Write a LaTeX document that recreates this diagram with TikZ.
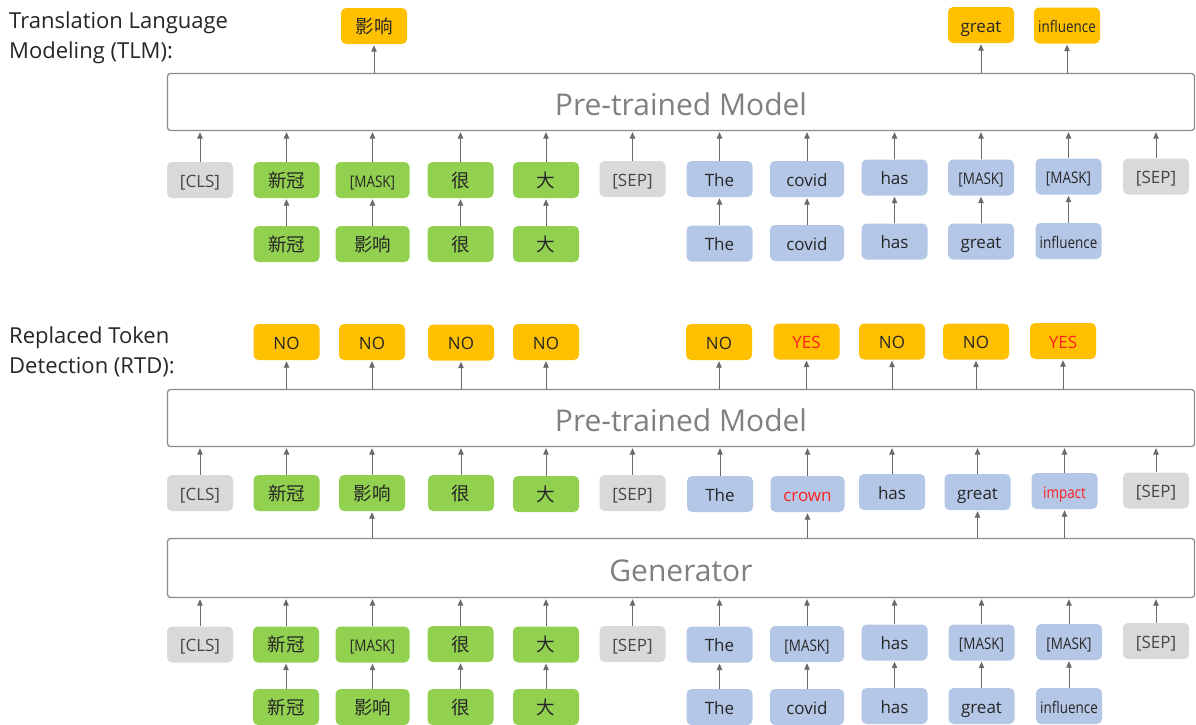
\documentclass[tikz,border=0pt]{standalone}
\usepackage{fontspec}
\setmainfont{Open Sans}
\newfontfamily\zhfont{Noto Sans CJK SC}
\usetikzlibrary{arrows.meta}
\definecolor{cOrange}{HTML}{FFC000}
\definecolor{cGreen}{HTML}{92D050}
\definecolor{cBlue}{HTML}{B4C7E7}
\definecolor{cGray}{HTML}{D9D9D9}
\definecolor{cText}{HTML}{262626}
\definecolor{cRed}{HTML}{FF2020}
\definecolor{cBorder}{HTML}{8C8C8C}
\definecolor{cLabel}{HTML}{808080}
\definecolor{cArrow}{HTML}{6A6A6A}
\newcommand{\zhtext}[1]{{\zhfont\fontsize{18.5}{20}\selectfont #1}}
\newcommand{\smtext}[1]{{\fontsize{16}{18}\selectfont\addfontfeatures{FakeStretch=0.84}#1}}
\tikzset{
  tok/.style={rounded corners=5pt, minimum width=66pt, minimum height=36pt, inner sep=0pt,
    text=cText, font=\fontsize{17}{20}\selectfont, text height=18pt, text depth=4pt},
  gtok/.style={tok, fill=cGreen},
  btok/.style={tok, fill=cBlue},
  ktok/.style={tok, fill=cGray, text=cText!85!white},
  otok/.style={tok, fill=cOrange},
  wide/.style={minimum width=74pt},
  redtext/.style={text=cRed},
  model/.style={draw=cBorder, line width=1.3pt, fill=white, rounded corners=3pt,
    minimum width=1027pt, minimum height=57pt, inner sep=0pt, text=cLabel,
    text height=26pt, text depth=0pt,
    font=\fontsize{30}{34}\selectfont},
  arr/.style={draw=cArrow, line width=0.9pt, -{Triangle[length=6.5pt,width=5.5pt]}, shorten >=1pt},
  title/.style={anchor=base west, inner sep=0pt, text=cText, font=\fontsize{22}{26}\selectfont}
}
\begin{document}
\begin{tikzpicture}[x=1pt,y=-1pt]
\useasboundingbox (0,0) rectangle (1196,724);
\fill[white] (0,0) rectangle (1196,724);

% ================= TLM =================
\node[title] (t1) at (9,28) {Translation Language};
\node[title] (t2) at (9,58) {Modeling (TLM):};

\node[otok] (o1) at (374,26) {\zhtext{影响}};
\node[otok] (o2) at (981,25) {great};
\node[otok] (o3) at (1067,25.5) {\smtext{influence}};

\node[model] (m1) at (681,102) {Pre-trained Model};

\node[ktok] (a1) at (200,180) {[CLS]};
\node[gtok] (a2) at (286.5,180) {\zhtext{新冠}};
\node[gtok,wide] (a3) at (372.5,180) {\smtext{[MASK]}};
\node[gtok] (a4) at (460.5,180) {\zhtext{很}};
\node[gtok] (a5) at (546,180) {\zhtext{大}};
\node[ktok] (a6) at (632.5,179) {[SEP]};
\node[btok] (a7) at (719.5,179) {The};
\node[btok,wide] (a8) at (807,179) {covid};
\node[btok] (a9) at (894.5,177.5) {has};
\node[btok] (a10) at (981,177.5) {\smtext{[MASK]}};
\node[btok] (a11) at (1068.5,176.5) {\smtext{[MASK]}};
\node[ktok] (a12) at (1156,176.5) {[SEP]};

\node[gtok] (b2) at (286.5,244) {\zhtext{新冠}};
\node[gtok,wide] (b3) at (372.5,244) {\zhtext{影响}};
\node[gtok] (b4) at (460.5,244) {\zhtext{很}};
\node[gtok] (b5) at (546,244) {\zhtext{大}};
\node[btok] (b7) at (719.5,243.5) {The};
\node[btok,wide] (b8) at (807,243) {covid};
\node[btok] (b9) at (894.5,241.5) {has};
\node[btok] (b10) at (981,241.5) {great};
\node[btok] (b11) at (1068.5,241) {\smtext{influence}};

\foreach \i in {1,...,12} {\draw[arr] (a\i.north) -- (m1.south -| a\i.north);}
\foreach \i in {2,3,4,5,7,8,9,10,11} {\draw[arr] (b\i.north) -- (a\i.south);}
\foreach \i in {1,2,3} {\draw[arr] (m1.north -| o\i.south) -- (o\i.south);}

% ================= RTD =================
\node[title] (t3) at (9,343) {Replaced Token};
\node[title] (t4) at (9,373) {Detection (RTD):};

\node[otok] (p2) at (286.5,342) {NO};
\node[otok] (p3) at (372,342) {NO};
\node[otok] (p4) at (461,342.5) {NO};
\node[otok] (p5) at (546,342) {NO};
\node[otok] (p7) at (719,342) {NO};
\node[otok,redtext] (p8) at (806.5,341.5) {YES};
\node[otok] (p9) at (892,341.5) {NO};
\node[otok] (p10) at (976,341.5) {NO};
\node[otok,redtext] (p11) at (1063,341) {YES};

\node[model] (m2) at (681,418) {Pre-trained Model};

\node[ktok] (c1) at (200,493) {[CLS]};
\node[gtok] (c2) at (286.5,493) {\zhtext{新冠}};
\node[gtok] (c3) at (372,493) {\zhtext{影响}};
\node[gtok] (c4) at (461,493) {\zhtext{很}};
\node[gtok] (c5) at (546,494) {\zhtext{大}};
\node[ktok] (c6) at (632.5,493) {[SEP]};
\node[btok] (c7) at (720,494) {The};
\node[btok,wide,redtext] (c8) at (807.5,494) {crown};
\node[btok] (c9) at (892,492) {has};
\node[btok] (c10) at (977.5,492) {great};
\node[btok,redtext] (c11) at (1064.5,491) {\smtext{impact}};
\node[ktok] (c12) at (1156,490.5) {[SEP]};

\node[model, minimum height=59pt] (m3) at (681,568) {Generator};

\node[ktok] (d1) at (200,644.5) {[CLS]};
\node[gtok] (d2) at (286,644.5) {\zhtext{新冠}};
\node[gtok,wide] (d3) at (372.5,644.5) {\smtext{[MASK]}};
\node[gtok] (d4) at (460.5,644) {\zhtext{很}};
\node[gtok] (d5) at (546,644.5) {\zhtext{大}};
\node[ktok] (d6) at (632.5,644) {[SEP]};
\node[btok] (d7) at (719.5,644.5) {The};
\node[btok,wide] (d8) at (807,644) {\smtext{[MASK]}};
\node[btok] (d9) at (894.5,642.5) {has};
\node[btok] (d10) at (981.5,642.5) {\smtext{[MASK]}};
\node[btok] (d11) at (1069,642) {\smtext{[MASK]}};
\node[ktok] (d12) at (1156,641) {[SEP]};

\node[gtok] (e2) at (286,707) {\zhtext{新冠}};
\node[gtok,wide] (e3) at (372.5,707) {\zhtext{影响}};
\node[gtok] (e4) at (460.5,707) {\zhtext{很}};
\node[gtok] (e5) at (546,707) {\zhtext{大}};
\node[btok] (e7) at (719.5,707) {The};
\node[btok,wide] (e8) at (807,707) {covid};
\node[btok] (e9) at (894.5,706) {has};
\node[btok] (e10) at (981.5,706) {great};
\node[btok] (e11) at (1069,706) {\smtext{influence}};

\foreach \i in {2,3,4,5,7,8,9,10,11} {\draw[arr] (m2.north -| p\i.south) -- (p\i.south);}
\foreach \i in {1,...,12} {\draw[arr] (c\i.north) -- (m2.south -| c\i.north);}
\foreach \i in {3,8,10,11} {\draw[arr] (m3.north -| c\i.south) -- (c\i.south);}
\foreach \i in {1,...,12} {\draw[arr] (d\i.north) -- (m3.south -| d\i.north);}
\foreach \i in {2,3,4,5,7,8,9,10,11} {\draw[arr] (e\i.north) -- (d\i.south);}
\end{tikzpicture}
\end{document}
